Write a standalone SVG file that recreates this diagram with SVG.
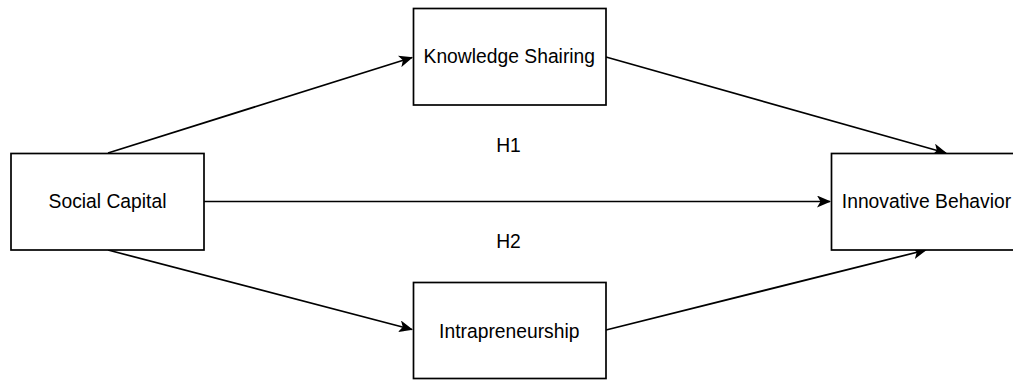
<svg xmlns="http://www.w3.org/2000/svg" width="1013" height="380" viewBox="0 0 1013 380">
  <style>
    .box { fill: #ffffff; stroke: #000000; stroke-width: 1.7; }
    .lbl { font-family: "Liberation Sans", Arial, sans-serif; font-size: 19.3px; fill: #000000; text-anchor: middle; }
    .edge { fill: none; stroke: #000000; stroke-width: 1.7; marker-end: url(#arrow); }
  </style>
  <defs>
    <marker id="arrow" viewBox="0 0 14 12" refX="13" refY="6" markerWidth="14" markerHeight="12" markerUnits="userSpaceOnUse" orient="auto">
      <path d="M0,0 L14,6 L0,12 L3.5,6 Z" fill="#000000"/>
    </marker>
  </defs>
  <rect width="1013" height="380" fill="#ffffff"/>
  <g id="connectors">
    <line class="edge" x1="108" y1="153" x2="412" y2="57.5"/>
    <line class="edge" x1="606" y1="57" x2="946" y2="153"/>
    <line class="edge" x1="204" y1="201.5" x2="830" y2="201.5"/>
    <line class="edge" x1="108" y1="250" x2="412" y2="329.5"/>
    <line class="edge" x1="606" y1="330" x2="926" y2="250"/>
  </g>
  <g id="node-social-capital">
    <rect class="box" x="11" y="153.5" width="193" height="96.5"/>
    <text class="lbl" x="107.5" y="208.3">Social Capital</text>
  </g>
  <g id="node-knowledge-shairing">
    <rect class="box" x="413.5" y="8.5" width="192.5" height="96.5"/>
    <text class="lbl" x="509.3" y="63">Knowledge Shairing</text>
  </g>
  <g id="node-intrapreneurship">
    <rect class="box" x="413.5" y="282.5" width="192.5" height="96"/>
    <text class="lbl" x="509.3" y="337.5">Intrapreneurship</text>
  </g>
  <g id="node-innovative-behavior">
    <rect class="box" x="831.5" y="153.5" width="193" height="96.5"/>
    <text class="lbl" x="926.5" y="208.3">Innovative Behavior</text>
  </g>
  <g id="labels">
    <text class="lbl" x="508.5" y="151.5">H1</text>
    <text class="lbl" x="508.5" y="248.3">H2</text>
  </g>
</svg>
